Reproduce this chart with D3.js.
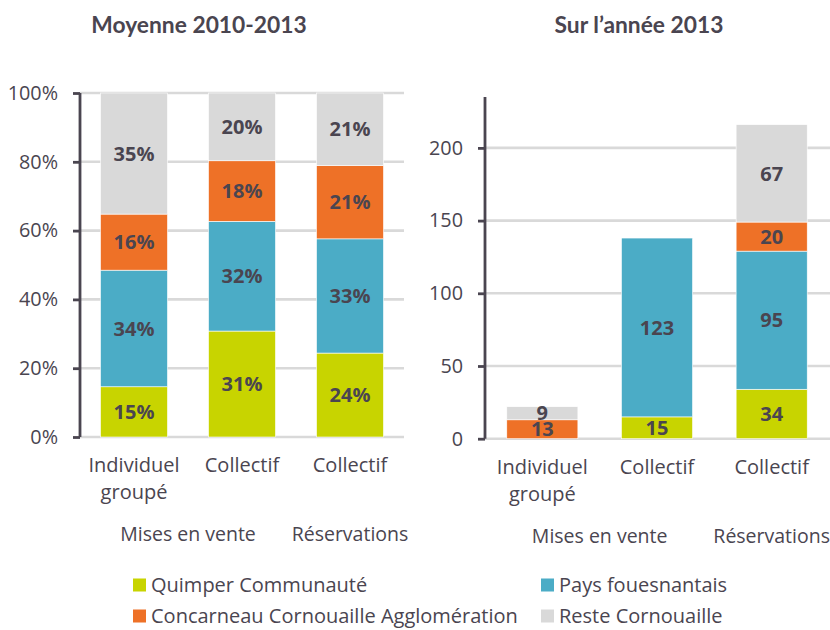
<!DOCTYPE html>
<html>
<head>
<meta charset="utf-8">
<script src="https://cdn.jsdelivr.net/npm/d3@7"></script>
<style>
  body { margin: 0; background: #fff; }
  svg { font-family: "Open Sans", sans-serif; }
</style>
</head>
<body>
<div id="chart"></div>
<script>
const series = ["Quimper Communauté", "Pays fouesnantais", "Concarneau Cornouaille Agglomération", "Reste Cornouaille"]
const seriesColors = ["#c8d400", "#4bacc6", "#ee7127", "#d9d9d9"]
const categories = ["Individuel groupé", "Collectif", "Collectif"]
const groups = ["Mises en vente", "Réservations"]

// Moyenne 2010-2013 (%)
const avgQuimper = [14.6, 30.8, 24.4]
const avgPays = [33.9, 31.9, 33.2]
const avgConcarneau = [16.3, 17.6, 21.3]
const avgReste = [35.2, 19.7, 21.1]
const pctTicks = [0, 20, 40, 60, 80, 100]

// Sur l'année 2013 (nombre)
const y13Quimper = [0, 15, 34]
const y13Pays = [0, 123, 95]
const y13Concarneau = [13, 0, 20]
const y13Reste = [9, 0, 67]
const countTicks = [0, 50, 100, 150, 200]

const textColor = "#4a4550"

const svg = d3.select('#chart').append('svg')
    .attr('width', 830)
    .attr('height', 630)

const stackRows = (a, b, c, d) => a.map((v, i) => ({ i: i, s0: v, s1: b[i], s2: c[i], s3: d[i] }))
const stack = d3.stack().keys(['s0', 's1', 's2', 's3'])

const drawPanel = (opts) => {
    const g = svg.append('g')
    const x = d3.scaleBand().domain(d3.range(categories.length))
        .range([opts.x0, opts.x1]).paddingInner(0.38).paddingOuter(0.19)
    const y = d3.scaleLinear().domain(opts.domain).range([opts.y0, opts.y1])

    // gridlines
    g.selectAll('line.grid').data(opts.ticks)
        .enter().append('line')
        .attr('x1', opts.x0).attr('x2', opts.gridEnd)
        .attr('y1', d => y(d)).attr('y2', d => y(d))
        .attr('stroke', '#d9d9d9').attr('stroke-width', 2.6)

    const layers = stack(opts.rows)
    const layer = g.selectAll('g.layer').data(layers).enter().append('g')
        .attr('fill', (d, k) => seriesColors[k])
    layer.selectAll('rect').data(d => d.filter(p => p[1] - p[0] > 0))
        .enter().append('rect')
        .attr('x', d => x(d.data.i))
        .attr('width', x.bandwidth())
        .attr('y', d => y(d[1]))
        .attr('height', d => y(d[0]) - y(d[1]))
        .attr('stroke', '#ffffff').attr('stroke-width', 0.6)

    // value labels
    layers.forEach((l, k) => {
        g.selectAll('text.v' + k).data(l.filter(p => p[1] - p[0] > 0))
            .enter().append('text')
            .attr('x', d => x(d.data.i) + x.bandwidth() / 2)
            .attr('y', d => y((d[0] + d[1]) / 2))
            .attr('dy', '0.36em')
            .attr('text-anchor', 'middle')
            .attr('font-size', 20).attr('font-weight', 700)
            .attr('fill', textColor)
            .text(d => opts.fmt(d[1] - d[0]))
    })

    // axis
    const axis = d3.axisLeft(y).tickValues(opts.ticks).tickSize(7).tickPadding(15).tickFormat(opts.tickFmt)
    const ax = g.append('g').attr('transform', `translate(${opts.x0},0)`).call(axis)
    ax.select('.domain').attr('d', `M0,${opts.y1}V${opts.y0}`)
        .attr('stroke', textColor).attr('stroke-width', 2.8)
    ax.selectAll('.tick line').attr('stroke', textColor).attr('stroke-width', 2.8)
    ax.selectAll('.tick text').attr('font-size', 19.8).attr('font-family', '"Open Sans", sans-serif')
        .attr('fill', textColor)

    // category labels
    categories.forEach((c, i) => {
        const words = c.split(' ')
        const t = g.append('text').attr('text-anchor', 'middle')
            .attr('font-size', 20).attr('fill', textColor)
        words.forEach((w, j) => {
            t.append('tspan').attr('x', x(i) + x.bandwidth() / 2)
                .attr('y', opts.y0 + 35 + j * 27).text(w)
        })
    })

    // group labels
    const cx = i => x(i) + x.bandwidth() / 2
    g.append('text').attr('x', (cx(0) + cx(1)) / 2).attr('y', opts.y0 + 104)
        .attr('text-anchor', 'middle').attr('font-size', 19.5).attr('fill', textColor).text(groups[0])
    g.append('text').attr('x', cx(2)).attr('y', opts.y0 + 104)
        .attr('text-anchor', 'middle').attr('font-size', 19.5).attr('fill', textColor).text(groups[1])

    // title
    g.append('text').attr('x', opts.titleX).attr('y', 33)
        .attr('text-anchor', 'middle').attr('font-size', 22.8).attr('font-weight', 700)
        .attr('font-family', 'Lato, sans-serif').attr('fill', textColor).text(opts.title)
}

drawPanel({
    rows: stackRows(avgQuimper, avgPays, avgConcarneau, avgReste),
    domain: [0, 100], ticks: pctTicks,
    x0: 80, x1: 404, gridEnd: 404, y0: 437, y1: 93,
    fmt: v => Math.round(v) + '%', tickFmt: d => d + '%',
    title: 'Moyenne 2010-2013', titleX: 199
})

drawPanel({
    rows: stackRows(y13Quimper, y13Pays, y13Concarneau, y13Reste),
    domain: [0, 235], ticks: countTicks,
    x0: 485, x1: 829, gridEnd: 830, y0: 438.7, y1: 97,
    fmt: v => Math.round(v), tickFmt: d => d,
    title: 'Sur l\u2019année 2013', titleX: 639
})

// legend
const legendPos = [[133, 585], [541, 585], [133, 616], [541, 616]]
const legend = svg.selectAll('g.legend').data(series).enter().append('g')
    .attr('transform', (d, i) => `translate(${legendPos[i][0]},${legendPos[i][1]})`)
legend.append('rect').attr('x', 0).attr('y', -6.5).attr('width', 13).attr('height', 13)
    .attr('fill', (d, i) => seriesColors[i])
legend.append('text').attr('x', 18).attr('dy', '0.36em')
    .attr('font-size', 20).attr('fill', textColor).text(d => d)
</script>
</body>
</html>
